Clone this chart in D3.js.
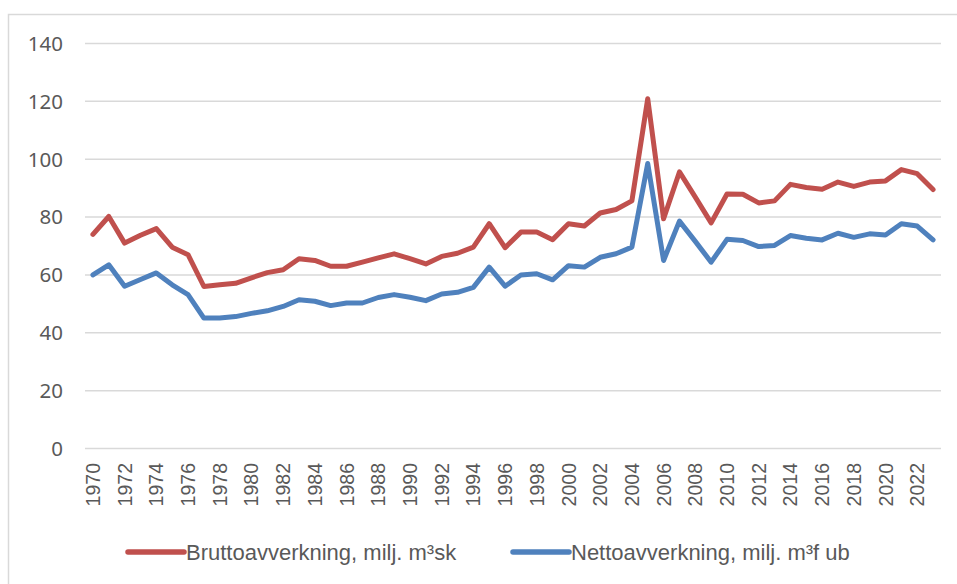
<!DOCTYPE html>
<html>
<head>
<meta charset="utf-8">
<script src="https://cdn.jsdelivr.net/npm/d3@7"></script>
<style>
  body { margin: 0; background: #fff; }
  svg { display: block; }
</style>
</head>
<body>
<svg id="chart" width="957" height="584"></svg>
<script>
// years on the category axis
const years = d3.range(1970, 2024);

// Bruttoavverkning, milj. m³sk
const brutto = [
  74, 80.2, 71, 73.7, 76, 69.6, 67, 56, 56.6, 57.1,
  59, 60.8, 61.8, 65.6, 65, 63, 63, 64.4, 65.9, 67.3,
  65.6, 63.8, 66.4, 67.5, 69.6, 77.7, 69.4, 74.8, 74.8, 72.2,
  77.7, 76.9, 81.4, 82.6, 85.6, 120.9, 79.4, 95.6, 86.9, 78,
  88, 87.9, 84.9, 85.6, 91.3, 90.2, 89.6, 92.1, 90.6, 92.1,
  92.5, 96.4, 95, 89.5
];

// Nettoavverkning, milj. m³f ub
const netto = [
  60, 63.5, 56.1, 58.4, 60.7, 56.6, 53.2, 45.1, 45.1, 45.6,
  46.7, 47.6, 49.1, 51.4, 50.9, 49.4, 50.3, 50.3, 52.2, 53.2,
  52.3, 51.1, 53.4, 54, 55.7, 62.7, 56.1, 60, 60.4, 58.3,
  63.2, 62.7, 66.1, 67.3, 69.6, 98.5, 65, 78.6, 71.6, 64.4,
  72.3, 71.9, 69.8, 70.2, 73.6, 72.7, 72.1, 74.4, 73, 74.2,
  73.8, 77.7, 76.9, 72.1
];

const yTicks = [0, 20, 40, 60, 80, 100, 120, 140];
const seriesNames = ["Bruttoavverkning, milj. m³sk", "Nettoavverkning, milj. m³f ub"];
const colors = ["#C0504D", "#4F81BD"];

const svg = d3.select("#chart");

// chart frame (right and bottom edges run off the picture)
svg.append("rect")
  .attr("x", 8.5).attr("y", 14.5)
  .attr("width", 960).attr("height", 580)
  .attr("fill", "none")
  .attr("stroke", "#D9D9D9")
  .attr("stroke-width", 1.5);

const x = d3.scalePoint()
  .domain(years)
  .range([85, 941])
  .padding(0.5);

const y = d3.scaleLinear()
  .domain([0, 140])
  .range([448.5, 43.5]);

// gridlines
svg.append("g")
  .selectAll("line")
  .data(yTicks)
  .join("line")
  .attr("x1", 85).attr("x2", 941)
  .attr("y1", d => y(d)).attr("y2", d => y(d))
  .attr("stroke", "#D9D9D9")
  .attr("stroke-width", 1.5);

// y labels
svg.append("g")
  .selectAll("text")
  .data(yTicks)
  .join("text")
  .attr("x", 63)
  .attr("y", d => y(d))
  .attr("dy", "0.36em")
  .attr("text-anchor", "end")
  .attr("fill", "#595959")
  .style("font", "20.5px 'Noto Sans', sans-serif")
  .text(d => d);

// x labels, every second year, rotated
svg.append("g")
  .selectAll("text")
  .data(years.filter((d, i) => i % 2 === 0))
  .join("text")
  .attr("transform", d => `translate(${x(d)},463) rotate(-90)`)
  .attr("dy", "0.36em")
  .attr("text-anchor", "end")
  .attr("fill", "#595959")
  .style("font", "19.5px 'Liberation Sans', Arial, sans-serif")
  .text(d => d);

// lines
const line = d3.line()
  .x((d, i) => x(years[i]))
  .y(d => y(d));

[brutto, netto].forEach((s, k) => {
  svg.append("path")
    .datum(s)
    .attr("d", line)
    .attr("fill", "none")
    .attr("stroke", colors[k])
    .attr("stroke-width", 5)
    .attr("stroke-linejoin", "round")
    .attr("stroke-linecap", "round");
});

// legend
const legendX = [128, 513];
const lg = svg.append("g")
  .selectAll("g")
  .data(seriesNames)
  .join("g")
  .attr("transform", (d, i) => `translate(${legendX[i]},552)`);

lg.append("line")
  .attr("x1", 0).attr("x2", 56)
  .attr("stroke", (d, i) => colors[i])
  .attr("stroke-width", 5.5)
  .attr("stroke-linecap", "round");

lg.append("text")
  .attr("x", 58)
  .attr("y", 8)
  .attr("fill", "#595959")
  .style("font", "22px 'Liberation Sans Narrow', 'Arial Narrow', sans-serif")
  .text(d => d);
</script>
</body>
</html>
